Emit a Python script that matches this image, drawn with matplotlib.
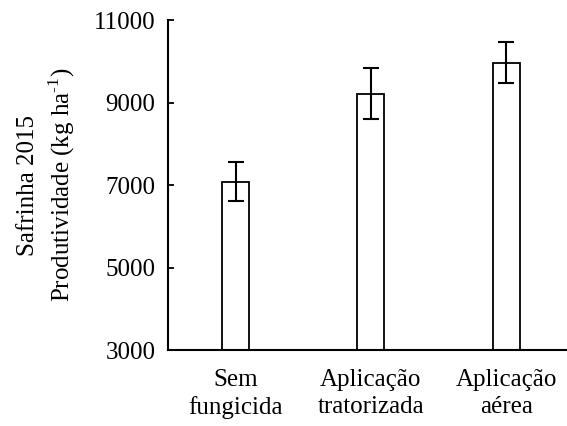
import matplotlib
matplotlib.use("Agg")
import matplotlib.pyplot as plt
import numpy as np

FONT = 'Liberation Serif'
plt.rcParams['font.family'] = 'serif'
plt.rcParams['font.serif'] = [FONT]
plt.rcParams['mathtext.fontset'] = 'custom'
plt.rcParams['mathtext.rm'] = FONT

categorias = ['Sem\nfungicida', 'Aplicação\ntratorizada', 'Aplicação\naérea']
produtividade = [7080, 9215, 9965]
erro = [475, 625, 500]
yticks = [3000, 5000, 7000, 9000, 11000]

fig = plt.figure(figsize=(5.67, 4.26), dpi=100)
ax = fig.add_axes([0.2963, 0.1784, 0.7037, 0.7746])

x = np.arange(len(categorias))
ax.bar(x, np.array(produtividade) - 3000, bottom=3000, width=0.2,
       color='white', edgecolor='black', linewidth=1.3)
ax.errorbar(x, produtividade, yerr=erro, fmt='none', ecolor='black',
            elinewidth=1.5, capsize=6, capthick=1.5)

ax.set_xlim(-0.5, 2.45)
ax.set_ylim(3000, 11000)
ax.set_yticks(yticks)
ax.set_yticklabels([str(v) for v in yticks], fontfamily=FONT, fontsize=18)
ax.set_xticks(x)
ax.set_xticklabels(categorias, fontfamily=FONT, fontsize=18, linespacing=1.25)
ax.tick_params(axis='x', length=0, pad=14)
ax.tick_params(axis='y', direction='in', length=4, width=1.3, pad=9)

ax.spines['top'].set_visible(False)
ax.spines['right'].set_visible(False)
ax.spines['left'].set_linewidth(1.5)
ax.spines['bottom'].set_linewidth(1.5)

ax.set_ylabel('Safrinha 2015\nProdutividade (kg ha$^{\\text{-1}}$)',
              fontfamily=FONT, fontsize=18, linespacing=1.35, labelpad=12)

fig.savefig('out.png', dpi=100)
